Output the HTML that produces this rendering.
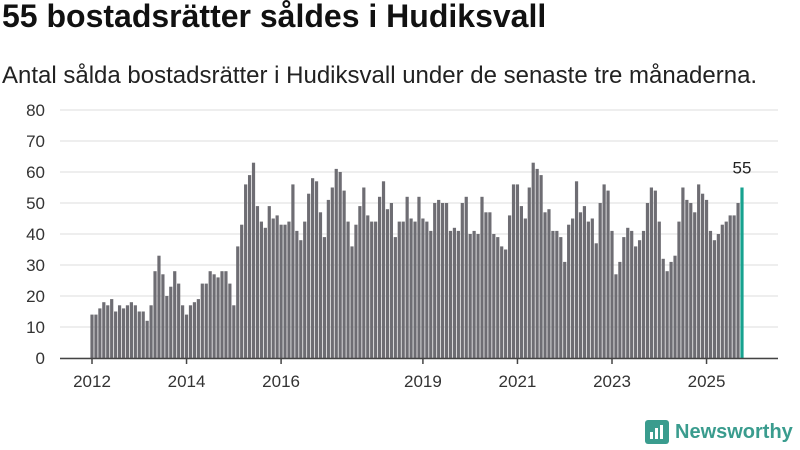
<!DOCTYPE html>
<html><head><meta charset="utf-8"><style>
body{margin:0;width:800px;height:450px;background:#fff;font-family:"Liberation Sans",sans-serif;overflow:hidden}
h1{position:absolute;left:2px;top:-2px;margin:0;font-size:32px;font-weight:bold;color:#111;white-space:nowrap}
.sub{position:absolute;left:2px;top:62px;font-size:24px;color:#222;white-space:nowrap}
</style></head><body>
<h1>55 bostadsrätter såldes i Hudiksvall</h1>
<div class="sub">Antal sålda bostadsrätter i Hudiksvall under de senaste tre månaderna.</div>
<svg id="c" width="800" height="450" style="position:absolute;left:0;top:0"></svg>
<div style="position:absolute;left:645px;top:420px;display:flex;align-items:center">
<svg width="24" height="24"><rect width="24" height="24" rx="3" fill="#3a9c8e"/><rect x="5" y="12" width="3" height="7" fill="#fff"/><rect x="10" y="8" width="3" height="11" fill="#fff"/><rect x="15" y="5" width="3" height="14" fill="#fff"/></svg>
<span style="margin-left:6px;font-size:20px;font-weight:bold;color:#3a9c8e">Newsworthy</span></div>
<script>
const values=[14,14,16,18,17,19,15,17,16,17,18,17,15,15,12,17,28,33,27,20,23,28,24,17,14,17,18,19,24,24,28,27,26,28,
28,24,17,36,43,56,59,63,49,44,42,49,45,46,43,43,44,56,41,38,44,53,58,57,47,39,51,55,61,60,
54,44,36,43,49,55,46,44,44,52,57,48,50,39,44,44,52,45,44,52,45,44,41,50,51,50,50,41,42,41,50,52,40,
41,40,52,47,47,40,39,36,35,46,56,56,49,45,55,63,61,59,47,48,41,41,39,31,43,45,57,47,49,44,
45,37,50,56,54,41,27,31,39,42,41,36,38,41,50,55,54,44,32,28,31,33,44,55,51,50,47,56,53,51,
41,38,40,43,44,46,46,50,55];
const yTicks=[0,10,20,30,40,50,60,70,80];
const xTickLabels=["2012","2014","2016","2019","2021","2023","2025"];
const xTickMonths=[0,24,48,84,108,132,156];
const NS="http://www.w3.org/2000/svg",svg=document.getElementById('c');
const x0=92,x1=742,yb=358,yt=110;
const n=values.length;
const x=i=>x0+i*(x1-x0)/(n-1);
const y=v=>yb-(v/80)*(yb-yt);
function mk(t,a){const e=document.createElementNS(NS,t);for(const k in a)e.setAttribute(k,a[k]);svg.appendChild(e);return e;}
yTicks.forEach(v=>{
 const g=mk('line',{x1:60,x2:778,y1:y(v),y2:y(v),stroke:'#ddd','stroke-width':1});
 
 
 const t=mk('text',{x:45,y:y(v)+6,'text-anchor':'end','font-size':17,fill:'#333'});t.textContent=v;
 
 
});
values.forEach((v,i)=>{
 const last=i===n-1;
 const r=mk('rect',{x:x(i)-1.6,y:y(v),width:3.2,height:yb-y(v),fill:last?'#17a28f':'#6e6d73'});
 
 
 if(last){const t=mk('text',{x:x(i),y:y(v)-14,'text-anchor':'middle','font-size':17,fill:'#222'});t.textContent=v;
 
 }
});
const ax=mk('line',{x1:60,x2:778,y1:yb+0.5,y2:yb+0.5,stroke:'#444','stroke-width':1.5});


xTickMonths.forEach((m,k)=>{
 const xp=x(m);
 const l=mk('line',{x1:xp,x2:xp,y1:yb,y2:yb+6,stroke:'#444','stroke-width':1.5});
 
 
 const t=mk('text',{x:xp,y:yb+29,'text-anchor':'middle','font-size':17,fill:'#333'});t.textContent=xTickLabels[k];
 
 
});
</script></body></html>
